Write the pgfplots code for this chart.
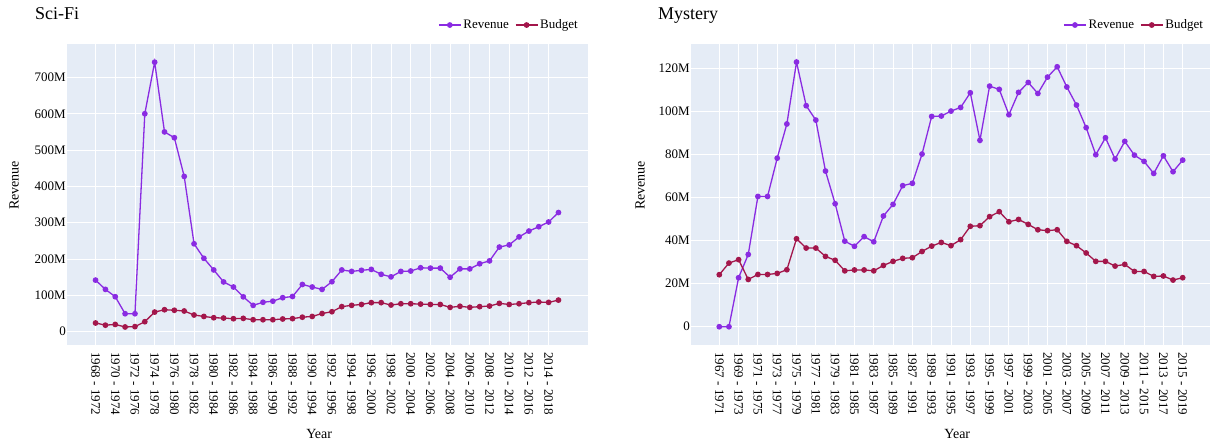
\documentclass[border=0pt]{standalone}
\usepackage{pgfplots}
\pgfplotsset{compat=1.18}
\usepackage{pgfplotstable}
\usepackage{fontspec}
\setmainfont{Liberation Serif}
\definecolor{bgc}{HTML}{E5ECF6}
\definecolor{revc}{HTML}{8A2BE2}
\definecolor{budc}{HTML}{A3164B}
\pgfplotstableread{
i rev bud
0 142 24
1 116.5 18
2 96.3 20
3 49.5 13
4 49.5 14
5 600 27.5
6 742 54
7 550 60.5
8 534 59
9 427.5 57
10 242 46
11 202 42
12 170 38.5
13 137 37.6
14 123 35.8
15 96 36.7
16 72.5 33
17 81 33
18 84 33
19 93.6 35
20 97 36
21 130 40
22 123 42
23 116.5 50
24 137.6 55
25 170 69
26 166 72.5
27 169 75
28 171.5 80
29 158 80
30 151 73.4
31 166 77
32 167 77
33 176 76
34 175 75
35 175 75
36 150 67
37 173 70
38 173 67
39 187 69
40 195 70.6
41 233 78
42 239 75
43 261 77
44 277 80
45 289 81.7
46 302 80.7
47 328 87
}\scifi
\pgfplotstableread{
i rev bud
0 0 24.2
1 0 29.6
2 22.8 31.2
3 33.6 22
4 60.6 24.3
5 60.6 24.3
6 78.4 24.8
7 94.3 26.5
8 123.1 40.9
9 102.8 36.6
10 96.1 36.6
11 72.4 32.7
12 57.2 30.9
13 39.8 26
14 37.4 26.4
15 41.9 26.4
16 39.5 26
17 51.5 28.5
18 56.9 30.4
19 65.6 31.8
20 66.7 32.1
21 80.3 35
22 97.8 37.5
23 98 39.2
24 100.3 37.7
25 102 40.5
26 108.8 46.7
27 86.7 47
28 111.9 51.2
29 110.4 53.5
30 98.6 48.8
31 109 49.9
32 113.6 47.6
33 108.5 45.1
34 116.1 44.7
35 120.9 45.1
36 111.5 39.7
37 103.1 37.7
38 92.6 34.3
39 80 30.4
40 87.9 30.4
41 78 28.2
42 86.2 29
43 79.8 25.7
44 76.9 25.7
45 71.3 23.4
46 79.5 23.6
47 72.1 21.7
48 77.5 22.8
}\mystery
\pgfplotsset{
  myaxis/.style={
    anchor=south west, scale only axis, height=301pt,
    axis background/.style={fill=bgc},
    axis line style={draw=none},
    tick style={draw=none},
    grid=major,
    major grid style={white, line width=0.9pt},
    extra y ticks={0}, extra y tick labels={},
    extra y tick style={grid style={white, line width=1.8pt}},
    tick label style={font=\fontsize{13}{13}\selectfont},
    /pgf/number format/assume math mode=true,
    yticklabel style={inner sep=1pt},
    xticklabel style={inner sep=0pt, yshift=-7pt, rotate=-90, anchor=west},
    label style={font=\fontsize{14}{14}\selectfont},
    title style={font=\fontsize{18}{18}\selectfont, anchor=base west, inner sep=0pt},
    legend style={draw=none, fill=none, inner sep=0pt, anchor=west,
      font=\fontsize{13}{13}\selectfont,
      nodes={inner sep=2pt}},
    legend columns=2,
    legend cell align=left,
    /tikz/every even column/.append style={column sep=4pt},
    legend image code/.code={\draw[mark repeat=2,mark phase=2,#1] plot coordinates {(0pt,0pt) (11pt,0pt) (22pt,0pt)};},
    every axis plot/.append style={line width=1.3pt, mark=*, mark size=2.2pt, mark options={solid}},
  }
}
\begin{document}
\begin{tikzpicture}[x=1pt,y=1pt]
\useasboundingbox (0,0) rectangle (1211,442);
\begin{axis}[myaxis, at={(67pt,97pt)}, width=521pt,
  xmin=-2.9, xmax=50, ymin=-36.6, ymax=792,
  xtick={0,2,...,46},
  xticklabels={1968 - 1972,1970 - 1974,1972 - 1976,1974 - 1978,1976 - 1980,1978 - 1982,1980 - 1984,1982 - 1986,1984 - 1988,1986 - 1990,1988 - 1992,1990 - 1994,1992 - 1996,1994 - 1998,1996 - 2000,1998 - 2002,2000 - 2004,2002 - 2006,2004 - 2008,2006 - 2010,2008 - 2012,2010 - 2014,2012 - 2016,2014 - 2018},
  ytick={0,100,...,700},
  yticklabels={0,100M,200M,300M,400M,500M,600M,700M},
  xlabel={Year}, ylabel={Revenue},
  xlabel style={at={(axis description cs:0.484,-0.296)}, anchor=center},
  ylabel style={at={(axis description cs:-0.1017,0.53)}, anchor=center, rotate=0},
  title={Sci-Fi}, title style={at={(axis description cs:-0.0614,1.063)}},
  legend style={at={(axis description cs:0.712,1.063)}},
]
\addplot[color=revc] table[x=i,y=rev]{\scifi};
\addlegendentry{Revenue}
\addplot[color=budc] table[x=i,y=bud]{\scifi};
\addlegendentry{Budget}
\end{axis}
\begin{axis}[myaxis, at={(691pt,97pt)}, width=519pt,
  xmin=-2.93, xmax=50.83, ymin=-8.5, ymax=131.5,
  xtick={0,2,...,48},
  xticklabels={1967 - 1971,1969 - 1973,1971 - 1975,1973 - 1977,1975 - 1979,1977 - 1981,1979 - 1983,1981 - 1985,1983 - 1987,1985 - 1989,1987 - 1991,1989 - 1993,1991 - 1995,1993 - 1997,1995 - 1999,1997 - 2001,1999 - 2003,2001 - 2005,2003 - 2007,2005 - 2009,2007 - 2011,2009 - 2013,2011 - 2015,2013 - 2017,2015 - 2019},
  ytick={0,20,...,120},
  yticklabels={0,20M,40M,60M,80M,100M,120M},
  xlabel={Year}, ylabel={Revenue},
  xlabel style={at={(axis description cs:0.513,-0.296)}, anchor=center},
  ylabel style={at={(axis description cs:-0.098,0.53)}, anchor=center, rotate=0},
  title={Mystery}, title style={at={(axis description cs:-0.0636,1.06)}},
  legend style={at={(axis description cs:0.717,1.063)}},
]
\addplot[color=revc] table[x=i,y=rev]{\mystery};
\addlegendentry{Revenue}
\addplot[color=budc] table[x=i,y=bud]{\mystery};
\addlegendentry{Budget}
\end{axis}
\end{tikzpicture}
\end{document}
